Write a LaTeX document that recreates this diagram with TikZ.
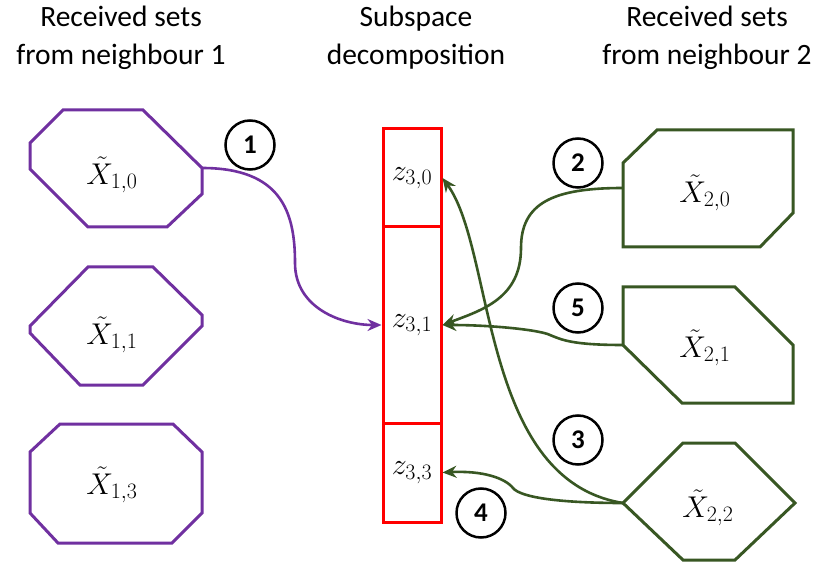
\documentclass[tikz,border=0pt]{standalone}
\usepackage{fix-cm}
\usepackage{amsmath}
\usepackage{fontspec}
\setmainfont{Carlito}
\usetikzlibrary{arrows.meta}
\DeclareMathSizes{30}{30}{22}{16}

\tikzset{
  head/.style={align=center,inner sep=0pt,font=\fontsize{29.5}{38}\selectfont},
  setlabel/.style={inner sep=0pt,font=\fontsize{30}{34}\selectfont},
  cell/.style={draw=cellColor,line width=3pt,minimum width=58pt,inner sep=0pt,font=\fontsize{30}{34}\selectfont},
  order/.style={circle,draw=black,line width=2.5pt,minimum size=49pt,inner sep=0pt,font=\bfseries\fontsize{27}{30}\selectfont},
  link/.style={line width=2.6pt,-{Stealth[length=14pt,width=12pt]}},
  setedge/.style={line width=3pt,line join=miter}
}

\begin{document}
\begin{tikzpicture}[x=1pt,y=1pt]
\definecolor{fillColor}{RGB}{255,255,255}
\definecolor{oneColor}{RGB}{112,48,160}
\definecolor{twoColor}{RGB}{56,87,35}
\definecolor{cellColor}{RGB}{255,0,0}
\path[use as bounding box,fill=fillColor] (0,0) rectangle (821,568);

% headers
\node[head] (head1) at (121,530) {Received sets\\from neighbour 1};
\node[head] (head0) at (416,530) {Subspace\\decomposition};
\node[head] (head2) at (707,530) {Received sets\\from neighbour 2};

% sets from neighbour 1
\path[draw=oneColor,setedge] (63,458) -- (143,458) -- (202,400) -- (202,374) -- (167,341) -- (88,341) -- (30,399) -- (30,425) -- cycle;
\path[draw=oneColor,setedge] (88,301) -- (153,301) -- (202,253) -- (202,242) -- (143,183) -- (80,183) -- (30,235) -- (30,242) -- cycle;
\path[draw=oneColor,setedge] (60,144) -- (173,144) -- (202,116) -- (202,55) -- (172,25) -- (58,25) -- (30,55) -- (30,116) -- cycle;
\node[setlabel] (x10) at (112,393) {$\tilde{X}_{1,0}$};
\node[setlabel] (x11) at (112,233) {$\tilde{X}_{1,1}$};
\node[setlabel] (x13) at (112,83) {$\tilde{X}_{1,3}$};
\coordinate (x10e) at (202,400);

% subspace decomposition
\node[cell,minimum height=98pt] (z30) at (412,390) {$z_{3,0}$};
\node[cell,minimum height=196pt] (z31) at (412,243) {$z_{3,1}$};
\node[cell,minimum height=99pt] (z33) at (412,95.5) {$z_{3,3}$};

% sets from neighbour 2
\path[draw=twoColor,setedge] (623,405) -- (657,438) -- (793,438) -- (793,355) -- (760,321) -- (623,321) -- cycle;
\path[draw=twoColor,setedge] (623,281) -- (735,281) -- (793,223) -- (793,165) -- (682,165) -- (623,223) -- cycle;
\path[draw=twoColor,setedge] (683,125) -- (735,125) -- (795,65) -- (735,8) -- (683,8) -- (623,65) -- cycle;
\node[setlabel] (x20) at (705,375) {$\tilde{X}_{2,0}$};
\node[setlabel] (x21) at (705,220) {$\tilde{X}_{2,1}$};
\node[setlabel] (x22) at (708,60) {$\tilde{X}_{2,2}$};
\coordinate (x20w) at (623,380);
\coordinate (x21w) at (623,223);
\coordinate (x22w) at (623,65);

% order of transmissions
\node[order] (n1) at (250,423) {1};
\node[order] (n2) at (578,405) {2};
\node[order] (n5) at (578,260) {5};
\node[order] (n3) at (578,128) {3};
\node[order] (n4) at (481,55) {4};

% connectors
\draw[link,oneColor] (x10e) .. controls +(80,0) and +(0,50) .. (295,305) .. controls +(0,-45) and +(-40,0) .. (z31.west);
\draw[link,twoColor] (x20w) .. controls +(-70,0) and +(0,45) .. (521,320) .. controls +(0,-50) and +(40,15) .. (z31.east);
\draw[link,twoColor] (x21w) .. controls +(-50,0) and +(12,-5) .. (550,233) .. controls +(-10,5) and +(50,0) .. (z31.east);
\draw[link,twoColor] (x22w) .. controls (480,88) and (495,318) .. (z30.east);
\draw[link,twoColor] (x22w) .. controls +(-60,0) and +(8,-10) .. (513,80) .. controls +(-8,10) and +(40,2) .. (z33.east);
\end{tikzpicture}
\end{document}
